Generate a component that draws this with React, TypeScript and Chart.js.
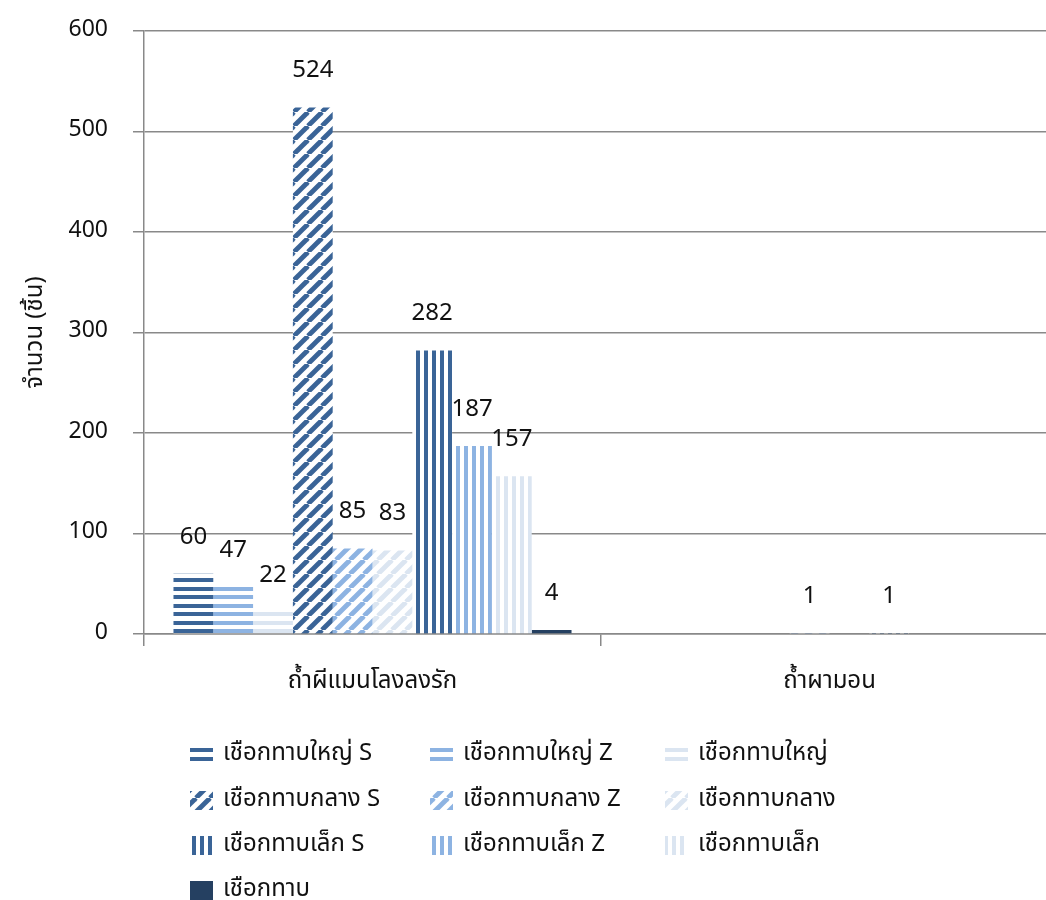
import React, { useEffect, useRef } from "react";
import { Chart, registerables } from "chart.js";

Chart.register(...registerables);

// ---- data ----
const categories = ["ถ้ำผีแมนโลงลงรัก", "ถ้ำผามอน"];
const seriesNames = [
  "เชือกทาบใหญ่ S",
  "เชือกทาบใหญ่ Z",
  "เชือกทาบใหญ่",
  "เชือกทาบกลาง S",
  "เชือกทาบกลาง Z",
  "เชือกทาบกลาง",
  "เชือกทาบเล็ก S",
  "เชือกทาบเล็ก Z",
  "เชือกทาบเล็ก",
  "เชือกทาบ",
];
const caveManLongLongRak = [60, 47, 22, 524, 85, 83, 282, 187, 157, 4];
const cavePhaMon = [null, null, null, null, 1, null, 1, null, null, null];
const yMin = 0;
const yMax = 600;
const yStep = 100;
const yTitle = "จำนวน (ชิ้น)";

// ---- styles ----
const FONT = '"Noto Sans Thai", "Noto Sans", "Open Sans", sans-serif';
const DARK = "#3a6497";
const LIGHT = "#8db3e2";
const PALE = "#dbe5f1";
const NAVY = "#254061";
const GRID = "#898989";
const seriesStyle: [string, string][] = [
  ["h", DARK], ["h", LIGHT], ["h", PALE],
  ["d", DARK], ["d", LIGHT], ["d", PALE],
  ["v", DARK], ["v", LIGHT], ["v", PALE],
  ["s", NAVY],
];

function makePattern(kind: string, color: string): CanvasPattern | string {
  if (kind === "s") return color;
  const c = document.createElement("canvas");
  const x = c.getContext("2d")!;
  if (kind === "h") {
    c.width = 8; c.height = 17;
    x.fillStyle = "#ffffff"; x.fillRect(0, 0, 8, 17);
    x.fillStyle = color;
    x.fillRect(0, 0, 8, 4);
    x.fillRect(0, 9, 8, 4);
  } else if (kind === "v") {
    c.width = 8; c.height = 8;
    x.fillStyle = "#ffffff"; x.fillRect(0, 0, 8, 8);
    x.fillStyle = color;
    x.fillRect(0, 0, 4, 8);
  } else {
    const p = 14;
    c.width = p; c.height = p;
    x.fillStyle = "#ffffff"; x.fillRect(0, 0, p, p);
    x.strokeStyle = color;
    x.lineWidth = 4.8;
    for (let k = -1; k <= 1; k++) {
      x.beginPath();
      x.moveTo(k * p, p);
      x.lineTo(k * p + p, 0);
      x.stroke();
    }
  }
  return x.createPattern(c, "repeat")!;
}

const legendCols = [190, 430, 665];
const legendRows = [755, 801, 846, 891];

const valueLabels = {
  id: "valueLabels",
  afterDatasetsDraw(chart: any) {
    const ctx = chart.ctx;
    ctx.save();
    ctx.font = `24px ${FONT}`;
    ctx.fillStyle = "#111";
    ctx.textAlign = "center";
    ctx.textBaseline = "middle";
    chart.data.datasets.forEach((ds: any, i: number) => {
      const meta = chart.getDatasetMeta(i);
      meta.data.forEach((el: any, j: number) => {
        const v = ds.data[j];
        if (v == null) return;
        ctx.fillText(String(v), el.x, el.y - 35);
      });
    });
    ctx.restore();
  },
};

const gridLegend = {
  id: "gridLegend",
  afterDraw(chart: any) {
    const ctx = chart.ctx;
    ctx.save();
    ctx.font = `24px ${FONT}`;
    ctx.textAlign = "left";
    ctx.textBaseline = "middle";
    chart.data.datasets.forEach((ds: any, i: number) => {
      const col = i % 3;
      const row = Math.floor(i / 3);
      const x = legendCols[col];
      const y = legendRows[row];
      ctx.fillStyle = ds.backgroundColor;
      ctx.fillRect(x, y - 10, 23, 19);
      ctx.fillStyle = "#111";
      ctx.fillText(ds.label, x + 33, y);
    });
    ctx.restore();
  },
};

export default function App() {
  const ref = useRef<HTMLCanvasElement>(null);
  useEffect(() => {
    document.body.style.margin = "0";
    const datasets = seriesNames.map((name, i) => ({
      label: name,
      data: [caveManLongLongRak[i], cavePhaMon[i]],
      backgroundColor: makePattern(seriesStyle[i][0], seriesStyle[i][1]),
      borderWidth: 0,
      barPercentage: 1,
      categoryPercentage: 0.871,
    }));
    const chart = new Chart(ref.current!, {
      type: "bar",
      data: { labels: categories, datasets: datasets as any },
      options: {
        animation: false,
        responsive: false,
        layout: { padding: { top: 31, right: 0, bottom: 0, left: 0 } },
        plugins: { legend: { display: false }, tooltip: { enabled: false } },
        scales: {
          x: {
            offset: true,
            grid: { display: true, drawOnChartArea: false, offset: true, tickLength: 12, color: GRID, lineWidth: 1.5 },
            border: { color: GRID, width: 1.5 },
            ticks: { font: { size: 24, family: FONT }, color: "#111", padding: 23 },
            afterFit(scale: any) {
              scale.height = 900 - 634;
              scale.paddingLeft = 0;
              scale.paddingRight = 0;
            },
          },
          y: {
            min: yMin,
            max: yMax,
            ticks: { stepSize: yStep, padding: 25, font: { size: 23, family: FONT }, color: "#111" },
            grid: { color: GRID, lineWidth: 1.5, tickLength: 11 },
            border: { color: GRID, width: 1.5 },
            title: { display: true, text: yTitle, font: { size: 24, family: FONT }, color: "#111", padding: { top: 23, bottom: 0 } },
            afterFit(scale: any) {
              scale.width = 144;
              scale.paddingTop = 0;
              scale.paddingBottom = 0;
            },
          },
        },
      },
      plugins: [valueLabels, gridLegend],
    });
    return () => chart.destroy();
  }, []);
  return (
    <div style={{ width: 1046, height: 900, overflow: "hidden" }}>
      <canvas ref={ref} width={1058} height={900} style={{ display: "block" }} />
    </div>
  );
}
